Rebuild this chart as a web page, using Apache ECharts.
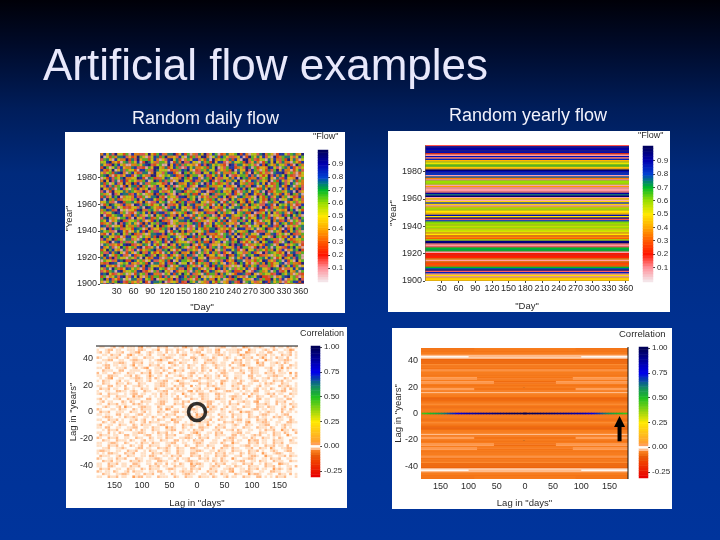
<!DOCTYPE html>
<html>
<head>
<meta charset="utf-8">
<style>
html,body{margin:0;padding:0;background:#002a80;}
#main{width:720px;height:540px;filter:blur(0.6px);}
</style>
<script src="https://cdn.jsdelivr.net/npm/echarts@6/dist/echarts.min.js"></script>
</head>
<body>
<div id="main"></div>
<script>
// top left panel: hand typed texture, one digit = flow*10. matches grain and colour mix of the picture, not individual cells
var dailyFlowRows=[
'3847194526083311594268137792482603174915860237446928305517936402885167349025',
'9052637781423964015872693341850726149930572864113580296474815092367741586032',
'1674085339271946625830418957203648815270934651728409936125507483162947305681',
'5589342067164802975316648027391184507362948810375562914730268495173306428915',
'7412968530033647891256009482716543028197465320981774365108296437551820963474',
'2960571843378112064995372486101857334627590416882351970624439851067382415962',
'8325904716452088631974550231687940216375581436290744918630527169483302571846',
'4156278930684217703945168824096375119548620733164857209462513078891463025697',
'6793025148820675319940465782317936604812573859012466381705249183759621034587',
'0528164793345982076213587044196258830762941154738096723381569407128443906152',
'3949170282564136805972716304985528137469201683375940258716439062851407263398',
'7260581494392807136654218097334862570918462351709843612758490236971586043127',
'5181736029477293605184492710563814098726335581240967139804725516842970361485',
'9437206815062843591177402696358150724339816605427183960522749136083847291560',
'1802945573764319206885134607792536418901276843592016748357091246635780914238',
'6350914877218460533927681409156372285049713664182507398421690735284196370542',
'2714869035538126047793206451889365702416137859240786315094268147936052183769',
'8096372154416903788526194035721864907532684101957342846075239618054793461282',
'4573108926675249301184670359268112795403368027516943925874106735980246153397',
'0269754183309817642557093124869478335162074951830627496351187209564730218965',
'7933860521245170986432601785944138270659143268057791324560928143672851096403',
'3687219050442893167510368927746052198335417206689014573892206175434968052719',
'5144798360120675839278816403562974035821194736508467229013585941673027968140',
'9022567841383714060956287319484102756367019428835561740396273054182695730418',
'1795340668209451872360714596138827403915562084733190624587162830459071386524',
'6480357921556173042869231054778691263405184729033761859420645937218306517492',
'2351709186474029385617892046331568729014856273441097568032175903864726105389',
'8716045295336182704959264503817410728365924618083751206449537812690351467028',
'4092867135528760391442671908356015846237791435260988315704692147308259617364',
'7563109842047582936115480276939136405728864319207543698021175064392847150386',
'3208476951692315047788196420536470952813325067184926174508933781460592136847',
'9674512038855106437292336875041982716590243168749015832267450196523848073961',
'1835926407714068295363917482508651239047186530824976410385297631058423546790',
'5429078161360795248146820973554016837229145806736914257039468821507962341683',
'0761342589921437608526059148376693025781440356919782013564287603985146702318',
'8347105962563890214708215637964015283491670724538196640291837075412869530146',
'2596843071418025367931769402588164307352940618857203945716426395180347692815',
'6118379502740693185242075816933492706158361824097551368240917653249078136459',
'4970526813082346971596418250373871065924475019238630765892134046518239760183',
'7382916450651709423881036574296127845093312669507428190356748602493571860245',
'0645138792297463058115372904866530921784056182439770315264983417608250946173',
'3219870465834156290773481269055902746318637408152968420517396245780163329584',
'9853420671110683975442196035787264108539286731405059274683116240937582604176',
'5170963248746302815985620437119358724061492837061564830297541976203158478092',
'1426708935563891240617953082446107369258735014682239501876347068125943706289',
'8794215360402756198331064827596481350726619375042887129403655218964730512836',
'2603571894185940372662817405983726194050534168297341076589221603478956103742',
'6938142705077318562904462391876150268473395704126985340871622957180346591028',
'4057369812634159208776901453821964705318526043871290674135982746301568829473',
'7281905643926470138550346879112598063417208753964125086432719660984235271506'
];
// top right panel: flow of each year, top row of the picture first
var yearlyFlow=[
0.15,0.92,0.92,0.90,0.93,0.88,0.22,0.08,0.88,0.12,
0.85,0.42,0.55,0.52,0.62,0.66,0.45,0.42,0.98,0.88,
0.86,0.82,0.08,0.78,0.35,0.10,0.60,0.60,0.58,0.08,
0.38,0.09,0.08,0.09,0.12,0.92,0.75,0.97,0.08,0.45,
0.07,0.47,0.80,0.46,0.07,0.45,0.60,0.58,0.50,0.46,
0.44,0.88,0.50,0.95,0.15,0.80,0.62,0.60,0.58,0.56,
0.60,0.52,0.56,0.54,0.42,0.50,0.33,0.36,0.30,0.58,
0.95,0.98,0.12,0.09,0.14,0.70,0.72,0.70,0.08,0.20,
0.20,0.21,0.22,0.36,0.08,0.33,0.27,0.28,0.30,0.70,
0.78,0.96,0.14,0.85,0.09,0.48,0.08,0.45,0.47,0.44
];
// bottom left panel: hand typed texture, one digit = 4 + correlation*100. grain and colour mix only, lag 50 years first
var dailyCorrRows=[
'4354436452435346143544635244534613544263544352644534472345363445243546345443',
'5443264354453346254435144635425344643524534614453352644735443654234453164435',
'3645244536443527443654354243464534352644534264543536447235453426445343645244',
'4435463524461345345244536435345624434573443526345443165344635245344635243544',
'2544353644524354463534435263445344625435346344523454463524437345463542443463',
'4453624435443265344543613544234535463445263544354425643543644153443526344354',
'5345443562344635244534354476342534435446352343544635245344136443525463443524',
'4436243545345143544635245443634542354463445235346443615344526443543644235344',
'3542644353644524361443525463443542345463544234544635344265344352443746345443',
'4463534426445353445243546344735244535463424453643544234565344432546345444263',
'2435446354425344635143524465345443264354344546234453564423544635243534746354',
'5344263544352463445734354244536345243446354524634453344624354453265344346244',
'4543614435443526345246344535444263544635234354464425344563443524354463423544',
'3465344524354463543244536244373544526344535446234354634452643544635243544635',
'4425344635463442534443526345446235444635234547344536244354434652344635443264',
'5344624354244536345443562344635244745344236543544235463344524354446352343544',
'4635245344634544253446344352464534435245344163544352463445243546344524635344',
'3445344263545234463544352644535346142354463544526344343546244534435264453463',
'5244635344543264354435463245344734534263544625344435463425344563245344635243',
'4453244635344152644345463543424463544523544364345263544134635442354463454352',
'3645443524463553446244353544263444635425344263544735345444624354435346244534',
'4524354446342544635344526344354632444535263445346443525346144354463524434635',
'5344635243544236345443562444635244345354264434546352443544635234464534253445',
'4436344524735445263544634352444635245344136344524354465344235463544324463544',
'2544435463544234635344524164354435263445463542344536344452643545344634254436',
'4635244353446354524344635443264354453446235443546344152634454363544245343544',
'5343544264354436245344534635244436347524354463544235344634452634454362444635',
'4452634454635234435463442534463544152634453446354245344635243544636345244354',
'3544635243445364524434635447253444635443524463544352643544635243445344634452',
'4463452435446344524635344354264434543635245444635243546144352634453446235443',
'5244354463544234635344526344544635234354734463544523446354435264454363544263',
'3546244534435264453463544152344634544263544635244354463544235346344524544635',
'4434635244536454234463544352644345463524443564435246344534454635244135463442',
'5344245463444352634454635243446344527344354632444536245344463544235463442534',
'4635343544264354436244534635244436345243544635344264354436524434635447344526',
'2544635244354463544234534635443526344635244534436254435463442534546344453264',
'4463544235346344524354463544264345463524445344635243544736245344635344254463',
'5344526344634454235463544352644534436254435346344153444635243544635244353462',
'3544635243446345244635344524354463442534635444263544352643544635243546444235',
'4435244536344452643544635234463544263445346442534635443524463547344352644354',
'5263544354463524434635445234463544352634453463544235344635243445634452644635',
'3454263544635244534463524354463544263445354635243544234635447344526344354624',
'4635344524463544354263445346352444635243544635234453644526344735443524635443',
'2544354635244463544352634453464352444635243546344154435263445346352443544635',
'4463524354446352343544263544634452635443546342534435264453463544235344635244',
'5344635243544263445346354243546344152634454635244354463524434635447253444635',
'3544263445346352444635243544635344264354436524435463544235344635243445346344',
'4635244354463544234635344526344354635244463544352644534635243544736345244354',
'2543546344524635344354264434543635245444635243546144352634453446235443544263',
'4463544352634453463524435446344526354435463442534463544152634453446354245344',
'5344635243544736245344635344254463544235346344524354463544264345463524445344'
];
// bottom right panel: correlation of each lag in years, lag 1 first. inner value holds within lagSplit days of lag 0
var lagOuter=[
-0.06,-0.05,-0.05,-0.06,-0.07,-0.05,-0.04,-0.05,-0.06,-0.07,
-0.09,-0.07,-0.05,-0.05,-0.04,-0.02,-0.05,-0.03,-0.03,-0.05,
-0.06,-0.05,-0.03,-0.03,-0.05,-0.03,-0.03,-0.05,-0.06,-0.05,
-0.05,-0.04,-0.03,-0.06,-0.05,-0.06,-0.04,-0.07,-0.08,-0.07,
-0.08,0,-0.002,-0.02,-0.05,-0.05,-0.06,-0.06,-0.06
];
var lagInner=[
-0.06,-0.05,-0.05,-0.06,-0.07,-0.05,-0.04,-0.05,-0.06,-0.07,
-0.09,-0.07,-0.05,-0.05,-0.04,-0.02,-0.05,-0.06,-0.06,-0.05,
-0.06,-0.05,-0.07,-0.07,-0.05,-0.06,-0.06,-0.05,-0.06,-0.05,
-0.05,-0.04,-0.03,-0.06,-0.05,-0.06,-0.04,-0.07,-0.08,-0.07,
-0.08,-0.02,-0.02,-0.02,-0.05,-0.05,-0.06,-0.05,-0.05
];
var lagSplit=[
0,0,0,0,0,0,0,0,0,0,
0,0,0,0,0,0,0,90,90,0,
0,0,55,55,0,85,85,0,0,0,
0,0,0,0,0,0,0,0,0,0,
0,100,100,0,0,0,0,90,90
];
// zero year lag row from lag 0 days out to 180 days, every 5 days
var zeroLagRow=[
1.00,1.00,0.99,0.99,0.98,0.98,0.97,0.96,0.95,0.95,
0.94,0.93,0.92,0.91,0.90,0.89,0.88,0.87,0.86,0.85,
0.84,0.82,0.80,0.78,0.75,0.72,0.70,0.67,0.64,0.61,
0.58,0.56,0.54,0.52,0.50,0.48,0.47
];
var dayTicks=[30,60,90,120,150,180,210,240,270,300,330,360];
var yearTicks=[1900,1920,1940,1960,1980];
var lagDayTicks=[-150,-100,-50,0,50,100,150];
var lagYearTicks=[-40,-20,0,20,40];
var flowTicks=['0.10','0.20','0.30','0.40','0.50','0.60','0.70','0.80','0.90'];
var corrTicks=['-0.25','0.00','0.25','0.50','0.75','1.00'];

var flowColors=['#f4e4e8','#ff8f98','#ff1500','#ff5a00','#ffa800','#ffe800','#9ade00','#00b828','#0040d0','#0000b0','#000060'];
var corrStops=[[-0.3,'#e80000'],[-0.15,'#f04000'],[-0.09,'#e85c08'],[-0.07,'#f06c10'],[-0.05,'#f87c1c'],[-0.04,'#fb8a30'],[-0.03,'#ff9f58'],[-0.02,'#ffbb8a'],[-0.01,'#ffdfc4'],[0,'#fffcf8'],
  [0.01,'#ffdfc4'],[0.02,'#ffbb8a'],[0.03,'#ff9f58'],[0.05,'#ffa030'],[0.25,'#ffe800'],[0.5,'#20c020'],[0.62,'#108070'],[0.75,'#0000e8'],[1,'#000058']];

var FONT='"Liberation Sans"',INK='#2a2a2a';

function corrRamp(){
  var out=[];
  for(var k=0;k<=260;k++){
    var v=-0.3+k*0.005,j=0;
    while(j<corrStops.length-2&&v>corrStops[j+1][0])j++;
    var a=corrStops[j],b=corrStops[j+1];
    out.push(echarts.color.lerp((v-a[0])/(b[0]-a[0]),[a[1],b[1]]));
  }
  return out;
}

var i,j,flowLevels=[],corrLevels=[];
for(i=0;i<=50;i++)flowLevels.push((i*0.02).toFixed(2));
for(i=0;i<=52;i++)corrLevels.push((-0.3+i*0.025).toFixed(2));

// cell lists, each cell is [x0,y0,x1,y1,value] in axis units
var cellsA=[],cellsB=[],cellsC=[],cellsD=[],barFlow=[],barCorr=[];
for(j=0;j<dailyFlowRows.length;j++){
  for(i=0;i<73;i++)cellsA.push([i*5+1,1998.5-(j+1)*2,i*5+6,1998.5-j*2,(Number(dailyFlowRows[j].charAt(i))+0.5)/10]);
}
for(j=0;j<yearlyFlow.length;j++)cellsB.push([1,1998.5-j,366,1999.5-j,yearlyFlow[j]]);
for(j=0;j<dailyCorrRows.length;j++){
  for(i=0;i<73;i++)cellsC.push([-182.5+i*5,49.5-(j+1)*99/51,-177.5+i*5,49.5-j*99/51,(Number(dailyCorrRows[j].charAt(i))-4)*0.01]);
}
for(j=0;j<lagOuter.length;j++){
  var lag=j+1;
  cellsD.push([-184.5,lag-0.5,183,lag+0.5,lagOuter[j]],[-184.5,-lag-0.5,183,-lag+0.5,lagOuter[j]]);
  if(lagSplit[j]){
    cellsD.push([-lagSplit[j],lag-0.5,lagSplit[j],lag+0.5,lagInner[j]],[-lagSplit[j],-lag-0.5,lagSplit[j],-lag+0.5,lagInner[j]]);
  }
}
// segments of the bright row overlap to hide seams
for(i=0;i<zeroLagRow.length;i++){
  var d0=i*5-2.5,d1=i*5+3.5;
  cellsD.push([d0,-0.6,d1,0.6,zeroLagRow[i]],[-d1,-0.6,-d0,0.6,zeroLagRow[i]]);
}
flowLevels.forEach(function(l,n){barFlow.push([0,n,Number(l)]);});
corrLevels.forEach(function(l,n){barCorr.push([0,n,Number(l)]);});

function valueAxis(grid,min,max,ticks,name,gap,tickShow,fmt){
  return {type:'value',gridIndex:grid,min:min,max:max,name:name,nameLocation:'middle',nameGap:gap,nameMoveOverlap:false,
    nameTextStyle:{fontSize:9.5,color:INK,fontFamily:FONT},
    axisLine:{show:false},splitLine:{show:false},
    axisTick:{show:tickShow,length:2,customValues:ticks,lineStyle:{color:'#444'}},
    axisLabel:{customValues:ticks,fontSize:9,color:INK,fontFamily:FONT,margin:3,formatter:fmt||function(v){return String(v);}}};
}
function barX(grid){
  return {type:'category',gridIndex:grid,data:['c'],show:false};
}
function barY(grid,data,ticks,fmt){
  var hit=function(index,value){return ticks.indexOf(value)>=0;};
  return {type:'category',gridIndex:grid,data:data,position:'right',
    axisLine:{show:false},splitLine:{show:false},
    axisTick:{show:true,length:2,alignWithLabel:true,interval:hit,lineStyle:{color:'#444'}},
    axisLabel:{interval:hit,fontSize:8,color:INK,fontFamily:FONT,margin:4,formatter:fmt}};
}
function oneDecimal(v){return Number(v).toFixed(1);}
function abs(v){return String(Math.abs(v));}
// cells go through the axes at fractional pixels, so thin rows antialias into their neighbours
function cellSeries(grid,cells,opacity){
  return {type:'custom',xAxisIndex:grid,yAxisIndex:grid,data:cells,progressive:0,silent:true,clip:true,
    encode:{x:[0,2],y:[1,3]},
    renderItem:function(params,api){
      var a=api.coord([api.value(0),api.value(1)]),b=api.coord([api.value(2),api.value(3)]);
      return {type:'rect',shape:{x:a[0],y:b[1],width:b[0]-a[0],height:a[1]-b[1]},
        style:{fill:api.visual('color'),opacity:opacity}};
    }};
}
function barSeries(grid,cells){
  return {type:'heatmap',xAxisIndex:grid,yAxisIndex:grid,data:cells,progressive:0,silent:true,itemStyle:{borderWidth:0}};
}
function panel(x,y,w,h){
  return {type:'rect',z:-10,shape:{x:x,y:y,width:w,height:h},style:{fill:'#fff'}};
}
function label(x,y,text,size,color,align){
  return {type:'text',z:5,x:x,y:y,style:{text:text,fontSize:size,fill:color,fontFamily:FONT,align:align||'left',textVerticalAlign:'middle'}};
}

var option={
  animation:false,
  backgroundColor:{type:'linear',x:0,y:0,x2:0,y2:1,colorStops:[
    {offset:0,color:'#000008'},{offset:0.08,color:'#000a28'},{offset:0.2,color:'#001d5a'},
    {offset:0.32,color:'#002a7c'},{offset:0.6,color:'#003090'},{offset:1,color:'#00349c'}]},
  graphic:{elements:[
    panel(65,132,280,181),panel(388,131,282,181),panel(66,327,281,181),panel(392,328,280,181),
    {type:'text',z:5,x:43,y:68,style:{text:'Artificial flow examples',fontSize:44,fill:'#e8e8fb',fontFamily:FONT,
      textVerticalAlign:'middle',shadowColor:'rgba(0,0,0,0.7)',shadowOffsetX:2,shadowOffsetY:2,shadowBlur:2}},
    label(132,119,'Random daily flow',18,'#f2f2fc'),
    label(449,116,'Random yearly flow',18,'#f2f2fc'),
    label(313,137,'"Flow"',9,INK),
    label(638,136,'"Flow"',9,INK),
    label(300,334,'Correlation',9,INK),
    label(619,334,'Correlation',9.5,INK),
    {type:'line',z:5,shape:{x1:96,y1:346,x2:298,y2:346},style:{stroke:'#111',lineWidth:1}},
    {type:'line',z:5,shape:{x1:628,y1:347,x2:628,y2:479},style:{stroke:'#111',lineWidth:1}}
  ]},
  grid:[
    {left:100,top:153,width:204,height:131,show:true,borderWidth:0,backgroundColor:'#80705a'},
    {left:318,top:150,width:10,height:132},
    {left:425,top:145,width:204,height:136,show:true,borderWidth:0,backgroundColor:'#706050'},
    {left:643,top:146,width:10,height:136},
    {left:96,top:346,width:202,height:132},
    {left:311,top:346,width:9,height:131},
    {left:421,top:348,width:207,height:131,show:true,borderWidth:0,backgroundColor:'#f08030'},
    {left:639,top:347,width:9,height:131}
  ],
  xAxis:[
    valueAxis(0,0,366,dayTicks,'"Day"',18,false),
    barX(1),
    valueAxis(2,0,366,dayTicks,'"Day"',20,true),
    barX(3),
    valueAxis(4,-183.5,183.5,lagDayTicks,'Lag in "days"',20,false,abs),
    barX(5),
    valueAxis(6,-184.5,183,lagDayTicks,'Lag in "days"',19,false,abs),
    barX(7)
  ],
  yAxis:[
    valueAxis(0,1900,1998.5,yearTicks,'"Year"',26,true),
    barY(1,flowLevels,flowTicks,oneDecimal),
    valueAxis(2,1900,1999.5,yearTicks,'"Year"',27,true),
    barY(3,flowLevels,flowTicks,oneDecimal),
    valueAxis(4,-49.5,49.5,lagYearTicks,'Lag in "years"',18,true),
    barY(5,corrLevels,corrTicks),
    valueAxis(6,-49.5,49.5,lagYearTicks,'Lag in "years"',18,true),
    barY(7,corrLevels,corrTicks)
  ],
  visualMap:[
    {type:'continuous',show:false,min:0,max:1,dimension:4,seriesIndex:[0,2],inRange:{color:flowColors}},
    {type:'continuous',show:false,min:0,max:1,dimension:2,seriesIndex:[1,3],inRange:{color:flowColors}},
    {type:'continuous',show:false,min:-0.3,max:1,dimension:4,seriesIndex:[4,6],inRange:{color:corrRamp()}},
    {type:'continuous',show:false,min:-0.3,max:1,dimension:2,seriesIndex:[5,7],inRange:{color:corrRamp()}}
  ],
  series:[
    cellSeries(0,cellsA,0.72),barSeries(1,barFlow),cellSeries(2,cellsB,1),barSeries(3,barFlow),
    cellSeries(4,cellsC,1),barSeries(5,barCorr),cellSeries(6,cellsD,1),barSeries(7,barCorr),
    {type:'scatter',xAxisIndex:4,yAxisIndex:4,z:6,symbol:'circle',symbolSize:17,silent:true,
      itemStyle:{color:'rgba(0,0,0,0)',borderColor:'#000',borderWidth:3.5},
      data:[[0,0]]},
    {type:'line',xAxisIndex:6,yAxisIndex:6,z:6,silent:true,showAllSymbol:true,
      symbol:function(val,p){return p.dataIndex===1?'triangle':'none';},symbolSize:11,
      lineStyle:{color:'#000',width:4},itemStyle:{color:'#000'},
      data:[[168,-21],[168,-6]]}
  ]
};
var chart=echarts.init(document.getElementById('main'));
chart.setOption(option);
</script>
</body>
</html>
